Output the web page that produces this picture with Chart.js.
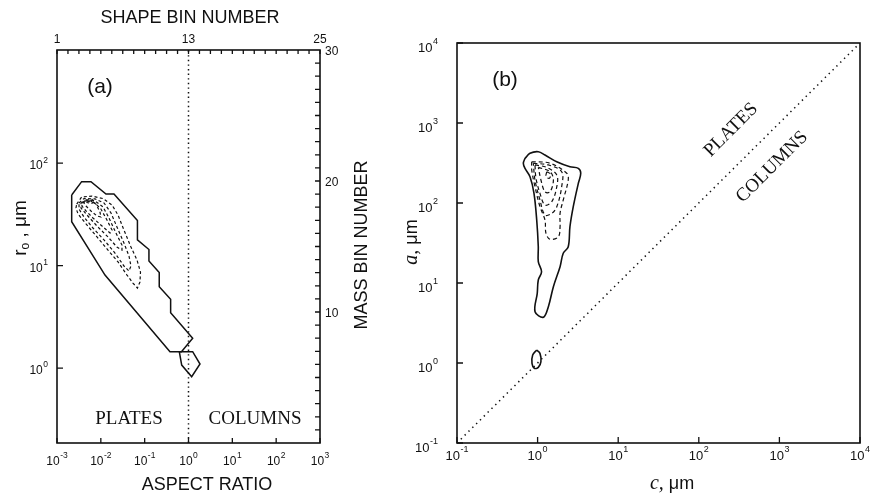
<!DOCTYPE html>
<html><head><meta charset="utf-8">
<script src="https://cdn.jsdelivr.net/npm/chart.js@4.4.1/dist/chart.umd.min.js"></script>
<style>
html,body{margin:0;padding:0;background:#fff;}
#wrap{position:relative;width:877px;height:497px;overflow:hidden;background:#fff;}
#ca{position:absolute;left:0;top:0;}
#cb{position:absolute;left:400px;top:0;}
</style></head><body>
<div id="wrap"><canvas id="ca" width="400" height="497"></canvas><canvas id="cb" width="477" height="497"></canvas></div>
<script>
// ================= DATA =================
// Panel (a): contours in (shape bin number, mass bin number)
const shapeBinLabels = [1, 13, 25];
const shapeBinTicks = [1,2,3,4,5,6,7,8,9,10,11,12,13,14,15,16,17,18,19,20,21,22,23,24,25];
const massBinLabels = [10, 20, 30];
const massBinTicks = [1,2,3,4,5,6,7,8,9,10,11,12,13,14,15,16,17,18,19,20,21,22,23,24,25,26,27,28,29];
const aspectRatioExps = [-3, -2, -1, 0, 1, 2, 3];
const radiusExps = [0, 1, 2];
const boundaryShapeBin = 13;

const aOuter = [[2.34,18.93],[3.25,19.95],[4.10,19.95],[5.47,19.01],[6.20,19.01],[8.34,16.98],[8.34,15.50],
  [9.39,14.77],[9.39,13.89],[10.33,13.02],[10.33,11.93],[11.37,10.97],[11.37,9.95],[13.38,7.99],
  [12.36,6.97],[11.31,6.97],[5.38,12.82],[2.34,16.89]];
const aSmall = [[12.16,6.97],[12.38,5.95],[13.29,5.06],[14.05,6.03],[13.38,6.97]];
const aDash1 = [[2.80,18.24],[3.25,18.78],[4.19,18.85],[5.20,18.66],[6.02,18.17],[6.57,17.40],[7.11,16.26],
  [7.75,14.96],[8.30,13.97],[8.62,13.05],[8.57,12.29],[8.34,11.83],[7.93,12.21],[7.39,12.82],[6.57,13.82],
  [5.65,14.73],[4.65,15.73],[3.65,16.72],[2.92,17.48],[2.73,17.94]];
const aDash2 = [[3.01,18.32],[3.46,18.66],[4.47,18.63],[5.29,18.32],[5.93,17.56],[6.47,16.49],[7.11,15.27],
  [7.57,14.27],[7.75,13.51],[7.57,13.13],[7.11,13.51],[6.29,14.50],[5.29,15.50],[4.28,16.41],[3.46,17.25],[3.01,17.86]];
const aDash3 = [[3.19,18.32],[3.65,18.55],[4.47,18.47],[5.20,18.02],[5.74,17.18],[6.38,16.03],[6.93,15.11],
  [6.93,14.73],[6.47,14.96],[5.65,15.73],[4.65,16.56],[3.74,17.40],[3.19,17.94]];
const aDash4 = [[3.28,18.32],[3.74,18.47],[4.47,18.32],[5.01,17.86],[5.56,17.02],[6.02,16.26],[5.84,16.03],
  [5.11,16.56],[4.28,17.18],[3.65,17.71],[3.28,18.09]];
const aDash5 = [[3.46,18.47],[4.01,18.51],[4.56,18.24],[4.92,17.63],[5.01,17.25],[4.65,17.33],[4.10,17.71],[3.65,18.09],[3.46,18.32]];
const aDash6 = [[3.65,18.55],[4.19,18.59],[4.47,18.40],[4.10,18.28],[3.74,18.36]];

// Panel (b): contours in (c [um], a [um])
const bExps = [-1, 0, 1, 2, 3, 4];
const bDiagonal = [[0.1,0.1],[1e4,1e4]];
const bOuter = [[0.698,362],[0.805,418],[1.02,438],[1.235,398],[1.726,328],[2.52,284],[3.20,271],[3.43,235],
  [3.20,176],[2.77,89.9],[2.52,50.6],[2.40,28.4],[2.08,23.5],[1.90,16.0],[1.57,9.0],[1.36,5.06],[1.18,3.73],
  [0.929,4.38],[0.99,7.43],[1.02,10.9],[1.12,13.8],[1.02,18.5],[1.02,28.4],[0.975,61.3],[0.902,132],
  [0.805,213],[0.698,271],[0.665,314]];
const bSmall = [[0.975,1.45],[1.07,1.32],[1.10,1.04],[1.02,0.88],[0.91,0.86],[0.852,0.99],[0.869,1.26]];
const bDash1 = [[0.845,328],[1.425,314],[2.30,235],[2.40,194],[2.08,109],[1.90,74.3],[1.90,50.6],[1.81,37.9],
  [1.425,35.2],[1.27,41.8],[1.235,61.3],[1.07,89.9],[0.928,160],[0.845,259]];
const bDash2 = [[0.885,314],[1.357,299],[1.99,246],[1.99,160],[1.73,89.9],[1.50,74.3],[1.235,70.8],[1.07,109],[0.928,194]];
const bDash3 = [[0.928,299],[1.297,279],[1.73,224],[1.73,160],[1.50,104],[1.235,94.4],[1.07,132],[0.955,204]];
const bDash4 = [[1.02,279],[1.425,246],[1.57,194],[1.425,138],[1.235,138],[1.10,194]];
const bDash5 = [[1.297,246],[1.45,230],[1.40,204],[1.27,213]];

// ================= HELPERS =================
const SANS = '"Liberation Sans", Arial, sans-serif';
const SERIF = '"Liberation Serif", "Times New Roman", serif';
const INK = '#111';
const closed = arr => arr.concat([arr[0]]).map(([x, y]) => ({x, y}));
const open = arr => arr.map(([x, y]) => ({x, y}));

function line(data, opts, xId, yId) {
  return Object.assign({data, showLine: true, pointRadius: 0, pointHoverRadius: 0, fill: false,
    borderColor: INK, borderWidth: 1.5, tension: 0, xAxisID: xId, yAxisID: yId}, opts);
}

function pow10(ctx, exp, x, y, size, esize, align) {
  ctx.font = size + 'px ' + SANS;
  const wb = ctx.measureText('10').width;
  ctx.font = esize + 'px ' + SANS;
  const e = String(exp);
  const we = ctx.measureText(e).width;
  const tot = wb + we + 0.5;
  let x0 = align === 'center' ? x - tot / 2 : x - tot;
  ctx.textAlign = 'left'; ctx.textBaseline = 'middle';
  ctx.font = size + 'px ' + SANS;
  ctx.fillText('10', x0, y);
  ctx.font = esize + 'px ' + SANS;
  ctx.fillText(e, x0 + wb + 0.5, y - size * 0.5);
}

function text(ctx, s, x, y, font, rot) {
  ctx.save();
  ctx.translate(x, y);
  if (rot) ctx.rotate(rot);
  ctx.font = font; ctx.textAlign = 'center'; ctx.textBaseline = 'middle';
  ctx.fillText(s, 0, 0);
  ctx.restore();
}

function ticksIn(ctx, scale, values, len, ca) {
  ctx.beginPath();
  values.forEach(v => {
    const p = scale.getPixelForValue(v);
    if (scale.position === 'bottom') { ctx.moveTo(p, ca.bottom); ctx.lineTo(p, ca.bottom - len); }
    else if (scale.position === 'top') { ctx.moveTo(p, ca.top); ctx.lineTo(p, ca.top + len); }
    else if (scale.position === 'left') { ctx.moveTo(ca.left, p); ctx.lineTo(ca.left + len, p); }
    else { ctx.moveTo(ca.right, p); ctx.lineTo(ca.right - len, p); }
  });
  ctx.stroke();
}

function hiddenAxis(extra, size, horiz) {
  return Object.assign({
    display: true,
    grid: {display: false, drawTicks: false},
    border: {display: false},
    ticks: {display: false},
    afterFit: s => { if (horiz) s.height = size; else s.width = size; }
  }, extra);
}

Chart.defaults.animation = false;

// ================= PANEL (a) =================
const dashA = {borderDash: [3, 2.4], borderWidth: 1.2};
new Chart(document.getElementById('ca'), {
  type: 'scatter',
  data: {datasets: [
    line(closed(aOuter), {}, 'x2', 'y2'),
    line(closed(aSmall), {}, 'x2', 'y2'),
    line(closed(aDash1), dashA, 'x2', 'y2'),
    line(closed(aDash2), dashA, 'x2', 'y2'),
    line(closed(aDash3), dashA, 'x2', 'y2'),
    line(closed(aDash4), dashA, 'x2', 'y2'),
    line(closed(aDash5), dashA, 'x2', 'y2'),
    line(closed(aDash6), dashA, 'x2', 'y2'),
    line([{x: boundaryShapeBin, y: 0}, {x: boundaryShapeBin, y: 30}], {borderDash: [1.4, 3.2], borderWidth: 1.5}, 'x2', 'y2')
  ]},
  options: {
    responsive: false, devicePixelRatio: 1, animation: false,
    layout: {padding: 0},
    plugins: {legend: {display: false}, tooltip: {enabled: false}},
    scales: {
      x: hiddenAxis({type: 'logarithmic', position: 'bottom', min: 1e-3, max: 1e3}, 54, true),
      x2: hiddenAxis({type: 'linear', axis: 'x', position: 'top', min: 1, max: 25}, 50, true),
      y: hiddenAxis({type: 'logarithmic', position: 'left', min: 0.186, max: 1271}, 57, false),
      y2: hiddenAxis({type: 'linear', axis: 'y', position: 'right', min: 0, max: 30}, 80, false)
    }
  },
  plugins: [{
    id: 'decorA',
    afterDraw(chart) {
      const ctx = chart.ctx, ca = chart.chartArea, s = chart.scales;
      ctx.save();
      ctx.strokeStyle = INK; ctx.fillStyle = INK; ctx.lineWidth = 1.6;
      ctx.strokeRect(ca.left, ca.top, ca.right - ca.left, ca.bottom - ca.top);
      ctx.lineWidth = 1.3;
      ticksIn(ctx, s.x, aspectRatioExps.map(e => Math.pow(10, e)), 5, ca);
      ticksIn(ctx, s.y, radiusExps.map(e => Math.pow(10, e)), 6, ca);
      ticksIn(ctx, s.x2, shapeBinTicks, 4, ca);
      ticksIn(ctx, s.y2, massBinTicks, 5, ca);
      // tick labels
      aspectRatioExps.forEach(e => pow10(ctx, e, s.x.getPixelForValue(Math.pow(10, e)), ca.bottom + 19, 12, 8.5, 'center'));
      radiusExps.forEach(e => pow10(ctx, e, ca.left - 9, s.y.getPixelForValue(Math.pow(10, e)) + 3, 12, 8.5, 'right'));
      ctx.font = '12px ' + SANS; ctx.textBaseline = 'middle';
      ctx.textAlign = 'center';
      shapeBinLabels.forEach(v => ctx.fillText(String(v), s.x2.getPixelForValue(v), ca.top - 10));
      ctx.textAlign = 'left';
      massBinLabels.forEach(v => ctx.fillText(String(v), ca.right + 5, s.y2.getPixelForValue(v) + 2));
      // titles and annotations
      text(ctx, 'SHAPE BIN NUMBER', 190, 18, '18px ' + SANS);
      text(ctx, 'ASPECT RATIO', 207, 485, '18px ' + SANS);
      text(ctx, 'MASS BIN NUMBER', 362, 245, '18px ' + SANS, -Math.PI / 2);
      text(ctx, '(a)', 100, 87, '21px ' + SANS);
      text(ctx, 'PLATES', 129, 419, '19px ' + SERIF);
      text(ctx, 'COLUMNS', 255, 419, '19px ' + SERIF);
      // r_o , um (rotated)
      ctx.save();
      ctx.translate(20, 228); ctx.rotate(-Math.PI / 2);
      ctx.textBaseline = 'alphabetic'; ctx.textAlign = 'left';
      ctx.font = '19px ' + SANS;
      const w1 = ctx.measureText('r').width;
      ctx.font = '12px ' + SANS;
      const w2 = ctx.measureText('o').width;
      ctx.font = '19px ' + SANS;
      const w3 = ctx.measureText(' , μm').width;
      let x0 = -(w1 + w2 + w3) / 2;
      ctx.fillText('r', x0, 6);
      ctx.font = '12px ' + SANS; ctx.fillText('o', x0 + w1, 9);
      ctx.font = '19px ' + SANS; ctx.fillText(' , μm', x0 + w1 + w2, 6);
      ctx.restore();
      ctx.restore();
    }
  }]
});

// ================= PANEL (b) =================
const dashB = {borderDash: [4, 3], borderWidth: 1.2, tension: 0.35};
const smooth = {tension: 0.35, borderWidth: 1.6};
new Chart(document.getElementById('cb'), {
  type: 'scatter',
  data: {datasets: [
    line(open(bDiagonal), {borderDash: [1.4, 4], borderWidth: 1.5}, 'x', 'y'),
    line(closed(bOuter), smooth, 'x', 'y'),
    line(closed(bSmall), smooth, 'x', 'y'),
    line(closed(bDash1), dashB, 'x', 'y'),
    line(closed(bDash2), dashB, 'x', 'y'),
    line(closed(bDash3), dashB, 'x', 'y'),
    line(closed(bDash4), dashB, 'x', 'y'),
    line(closed(bDash5), dashB, 'x', 'y')
  ]},
  options: {
    responsive: false, devicePixelRatio: 1, animation: false,
    layout: {padding: {top: 43, right: 17, left: 0, bottom: 0}},
    plugins: {legend: {display: false}, tooltip: {enabled: false}},
    scales: {
      x: hiddenAxis({type: 'logarithmic', position: 'bottom', min: 0.1, max: 1e4}, 54, true),
      y: hiddenAxis({type: 'logarithmic', position: 'left', min: 0.1, max: 1e4}, 57, false)
    }
  },
  plugins: [{
    id: 'decorB',
    afterDraw(chart) {
      const ctx = chart.ctx, ca = chart.chartArea, s = chart.scales;
      ctx.save();
      ctx.strokeStyle = INK; ctx.fillStyle = INK; ctx.lineWidth = 1.6;
      ctx.strokeRect(ca.left, ca.top, ca.right - ca.left, ca.bottom - ca.top);
      ctx.lineWidth = 1.3;
      ticksIn(ctx, s.x, bExps.map(e => Math.pow(10, e)), 6, ca);
      ticksIn(ctx, s.y, bExps.map(e => Math.pow(10, e)), 6, ca);
      bExps.forEach(e => pow10(ctx, e, s.x.getPixelForValue(Math.pow(10, e)), ca.bottom + 13, 13, 9, 'center'));
      bExps.forEach(e => pow10(ctx, e, ca.left - 19, s.y.getPixelForValue(Math.pow(10, e)) + 5, 13, 9, 'right'));
      text(ctx, '(b)', 105, 80, '21px ' + SANS);
      text(ctx, 'PLATES', 331, 130, '19px ' + SERIF, -Math.PI / 4);
      text(ctx, 'COLUMNS', 372, 167, '19px ' + SERIF, -Math.PI / 4);
      // axis titles with italic symbol
      function mixed(sym, x, y, rot) {
        ctx.save();
        ctx.translate(x, y); if (rot) ctx.rotate(rot);
        ctx.textBaseline = 'middle'; ctx.textAlign = 'left';
        ctx.font = 'italic 20px ' + SERIF;
        const w1 = ctx.measureText(sym + ',').width;
        ctx.font = '18px ' + SANS;
        const w2 = ctx.measureText(' μm').width;
        const x0 = -(w1 + w2) / 2;
        ctx.font = 'italic 20px ' + SERIF; ctx.fillText(sym + ',', x0, 0);
        ctx.font = '18px ' + SANS; ctx.fillText(' μm', x0 + w1, 0);
        ctx.restore();
      }
      mixed('c', 272, 484, 0);
      mixed('a', 12, 242, -Math.PI / 2);
      ctx.restore();
    }
  }]
});
</script>
</body></html>
